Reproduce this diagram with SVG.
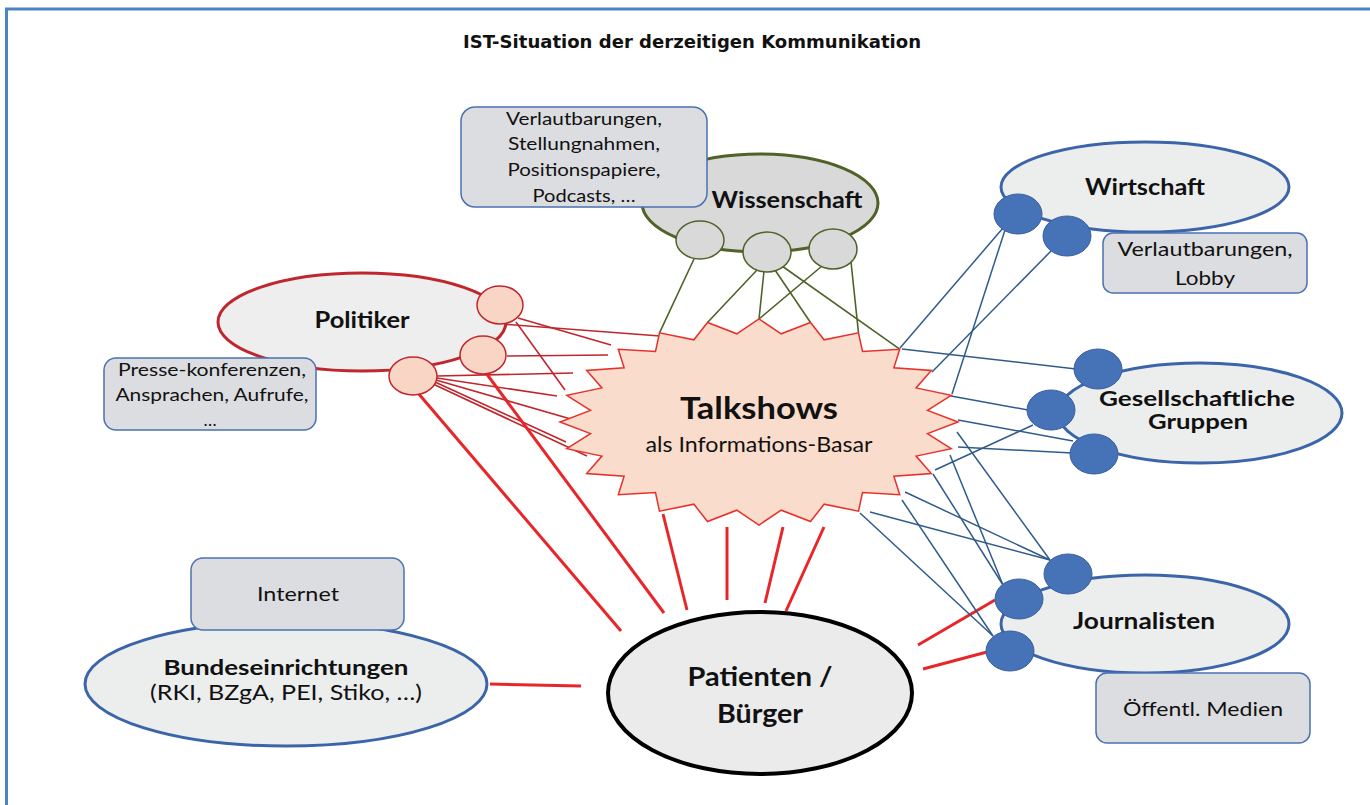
<svg xmlns="http://www.w3.org/2000/svg" width="1370" height="805" viewBox="0 0 1370 805">
<style>
text{font-family:Lato,"Open Sans","Liberation Sans",sans-serif;fill:#111;text-anchor:middle}
.b{font-weight:bold}
.box{fill:#dcdde0;stroke:#4a72b0;stroke-width:1.5}
.bell{fill:#eceeee;stroke:#3b65a8;stroke-width:3}
.bc{fill:#4672b8;stroke:#3a5f9c;stroke-width:1}
.gc{fill:#d9d9d9;stroke:#4f6228;stroke-width:1.5}
.pc{fill:#f8d5c4;stroke:#c0262d;stroke-width:1.5}
.gl{stroke:#4f6228;stroke-width:1.6;fill:none}
.rl{stroke:#c0262d;stroke-width:1.6;fill:none}
.rt{stroke:#e8262a;stroke-width:3;fill:none}
.bl{stroke:#2f5b8c;stroke-width:1.5;fill:none}
</style>
<rect width="1370" height="805" fill="#fff"/>
<g id="frame" stroke="#4a84c4" stroke-width="3" fill="none">
<line x1="5" y1="9" x2="1370" y2="9"/>
<line x1="6.5" y1="9" x2="6.5" y2="805"/>
</g>
<text x="692" y="48" class="b" style="font-family:'DejaVu Sans Condensed','DejaVu Sans',sans-serif;font-stretch:condensed" font-size="17" textLength="458" lengthAdjust="spacingAndGlyphs">IST-Situation der derzeitigen Kommunikation</text>

<g id="connectors">
<!-- green -->
<line class="gl" x1="694" y1="259" x2="659.5" y2="332.8"/>
<line class="gl" x1="757" y1="270" x2="707.5" y2="322.5"/>
<line class="gl" x1="764" y1="271" x2="759" y2="319"/>
<line class="gl" x1="775" y1="270" x2="810.5" y2="322.5"/>
<line class="gl" x1="782" y1="266" x2="899.7" y2="349.2"/>
<line class="gl" x1="822" y1="266" x2="759" y2="319"/>
<line class="gl" x1="851" y1="262" x2="858.5" y2="332.8"/>
<!-- red thin -->
<line class="rl" x1="488" y1="323" x2="660" y2="336"/>
<line class="rl" x1="518" y1="318" x2="611" y2="345"/>
<line class="rl" x1="516" y1="322" x2="565" y2="390"/>
<line class="rl" x1="507" y1="356" x2="608" y2="355"/>
<line class="rl" x1="437" y1="376" x2="573" y2="373"/>
<line class="rl" x1="437" y1="378" x2="557" y2="396"/>
<line class="rl" x1="436" y1="380" x2="588" y2="424"/>
<line class="rl" x1="435" y1="382" x2="566" y2="442"/>
<line class="rl" x1="433" y1="384" x2="587" y2="456"/>
<!-- red thick -->
<line class="rt" x1="418" y1="393" x2="621" y2="631"/>
<line class="rt" x1="486" y1="373" x2="664" y2="613"/>
<line class="rt" x1="663" y1="514" x2="687" y2="610"/>
<line class="rt" x1="727" y1="527" x2="727" y2="600"/>
<line class="rt" x1="783" y1="527" x2="765" y2="603"/>
<line class="rt" x1="824" y1="527" x2="786" y2="611"/>
<line class="rt" x1="490" y1="684" x2="581" y2="686"/>
<line class="rt" x1="918" y1="645" x2="995" y2="600"/>
<line class="rt" x1="923" y1="669" x2="987" y2="652"/>
<!-- blue -->
<line class="bl" x1="1003" y1="228" x2="900" y2="348"/>
<line class="bl" x1="1005" y1="230" x2="952" y2="394"/>
<line class="bl" x1="1051" y1="251" x2="932" y2="372"/>
<line class="bl" x1="902" y1="349" x2="1076" y2="369"/>
<line class="bl" x1="951" y1="396" x2="1028" y2="410"/>
<line class="bl" x1="958" y1="420" x2="1073" y2="441"/>
<line class="bl" x1="958" y1="447" x2="1072" y2="453"/>
<line class="bl" x1="935" y1="470" x2="1033" y2="425"/>
<line class="bl" x1="957" y1="432" x2="1050" y2="560"/>
<line class="bl" x1="905" y1="492" x2="1050" y2="560"/>
<line class="bl" x1="870" y1="512" x2="1050" y2="560"/>
<line class="bl" x1="933" y1="474" x2="1003" y2="585"/>
<line class="bl" x1="950" y1="455" x2="1003" y2="585"/>
<line class="bl" x1="902" y1="500" x2="993" y2="636"/>
<line class="bl" x1="860" y1="513" x2="993" y2="636"/>
</g>

<g id="talkshows">
<polygon fill="#f9dccc" stroke="#e8302a" stroke-width="1.5" points="958,422 927.5,410.4 951.2,395.3 916.1,387.9 931.3,370.5 893.9,367.8 899.7,349.2 862.5,351.4 858.5,332.8 824.1,339.8 810.5,322.5 781.2,333.8 759,319 736.8,333.8 707.5,322.5 693.9,339.8 659.5,332.8 655.5,351.4 618.3,349.2 624.1,367.8 586.7,370.5 601.9,387.9 566.8,395.3 590.5,410.4 560,422 590.5,433.6 566.8,448.7 601.9,456.1 586.7,473.5 624.1,476.2 618.3,494.8 655.5,492.6 659.5,511.2 693.9,504.2 707.5,521.5 736.8,510.2 759,525 781.2,510.2 810.5,521.5 824.1,504.2 858.5,511.2 862.5,492.6 899.7,494.8 893.9,476.2 931.3,473.5 916.1,456.1 951.2,448.7 927.5,433.6"/>
<text x="759" y="419" class="b" font-size="31" textLength="158" lengthAdjust="spacingAndGlyphs">Talkshows</text>
<text x="759" y="452" font-size="21" textLength="227" lengthAdjust="spacingAndGlyphs">als Informations-Basar</text>
</g>

<g id="wissenschaft">
<ellipse cx="760" cy="203" rx="118" ry="49" fill="#d9d9d9" stroke="#4f6228" stroke-width="3"/>
<text x="787" y="208" class="b" font-size="23" textLength="151" lengthAdjust="spacingAndGlyphs">Wissenschaft</text>
<ellipse class="gc" cx="700" cy="240" rx="24" ry="19"/>
<ellipse class="gc" cx="767" cy="252" rx="24" ry="20"/>
<ellipse class="gc" cx="833" cy="249" rx="24" ry="20"/>
</g>
<g id="wissenschaft-info">
<rect class="box" x="461" y="107" width="246" height="100" rx="14"/>
<text x="584" y="125" font-size="18" textLength="156" lengthAdjust="spacingAndGlyphs">Verlautbarungen,</text>
<text x="584" y="150" font-size="18" textLength="152" lengthAdjust="spacingAndGlyphs">Stellungnahmen,</text>
<text x="584" y="176" font-size="18" textLength="153" lengthAdjust="spacingAndGlyphs">Positionspapiere,</text>
<text x="584" y="202" font-size="18" textLength="103" lengthAdjust="spacingAndGlyphs">Podcasts, …</text>
</g>

<g id="politiker">
<ellipse cx="362" cy="322" rx="144" ry="49" fill="#eeeeee" stroke="#c0262d" stroke-width="3"/>
<text x="362" y="328" class="b" font-size="22" textLength="95" lengthAdjust="spacingAndGlyphs">Politiker</text>
<ellipse class="pc" cx="500" cy="305" rx="23" ry="19"/>
<ellipse class="pc" cx="483" cy="355" rx="23" ry="19"/>
<ellipse class="pc" cx="413" cy="376" rx="24" ry="19"/>
</g>
<g id="politiker-info">
<rect class="box" x="104" y="358" width="212" height="72" rx="12"/>
<text x="212" y="376" font-size="17.5" textLength="188" lengthAdjust="spacingAndGlyphs">Presse-konferenzen,</text>
<text x="212" y="401" font-size="17.5" textLength="193" lengthAdjust="spacingAndGlyphs">Ansprachen, Aufrufe,</text>
<text x="210" y="426" font-size="17.5">…</text>
</g>

<g id="wirtschaft">
<ellipse class="bell" cx="1145" cy="187" rx="144" ry="45"/>
<text x="1145" y="195" class="b" font-size="23" textLength="120" lengthAdjust="spacingAndGlyphs">Wirtschaft</text>
<ellipse class="bc" cx="1018" cy="214" rx="24" ry="20"/>
<ellipse class="bc" cx="1067" cy="236" rx="24" ry="20"/>
</g>
<g id="wirtschaft-info">
<rect class="box" x="1103" y="233" width="204" height="60" rx="10"/>
<text x="1205" y="256" font-size="20" textLength="175" lengthAdjust="spacingAndGlyphs">Verlautbarungen,</text>
<text x="1205" y="285" font-size="20" textLength="60" lengthAdjust="spacingAndGlyphs">Lobby</text>
</g>

<g id="gesellschaft">
<ellipse class="bell" cx="1200" cy="413" rx="142" ry="50"/>
<text x="1197" y="406" class="b" font-size="21" textLength="196" lengthAdjust="spacingAndGlyphs">Gesellschaftliche</text>
<text x="1198" y="429" class="b" font-size="21" textLength="100" lengthAdjust="spacingAndGlyphs">Gruppen</text>
<ellipse class="bc" cx="1098" cy="369" rx="24" ry="20"/>
<ellipse class="bc" cx="1051" cy="410" rx="24" ry="20"/>
<ellipse class="bc" cx="1094" cy="454" rx="24" ry="20"/>
</g>

<g id="journalisten">
<ellipse class="bell" cx="1145" cy="624" rx="144" ry="49"/>
<text x="1144" y="629" class="b" font-size="22" textLength="142" lengthAdjust="spacingAndGlyphs">Journalisten</text>
<ellipse class="bc" cx="1068" cy="574" rx="24" ry="20"/>
<ellipse class="bc" cx="1019" cy="599" rx="24" ry="20"/>
<ellipse class="bc" cx="1010" cy="651" rx="24" ry="20"/>
</g>
<g id="journalisten-info">
<rect class="box" x="1096" y="673" width="214" height="70" rx="11"/>
<text x="1203" y="716" font-size="20" textLength="160" lengthAdjust="spacingAndGlyphs">Öffentl. Medien</text>
</g>

<g id="bundeseinrichtungen">
<ellipse class="bell" cx="286" cy="684" rx="201" ry="62"/>
<text x="286" y="675" class="b" font-size="21" textLength="245" lengthAdjust="spacingAndGlyphs">Bundeseinrichtungen</text>
<text x="286" y="700" font-size="22" textLength="272" lengthAdjust="spacingAndGlyphs">(RKI, BZgA, PEI, Stiko, …)</text>
</g>
<g id="internet">
<rect class="box" x="191" y="558" width="213" height="72" rx="12"/>
<text x="298" y="601" font-size="20" textLength="82" lengthAdjust="spacingAndGlyphs">Internet</text>
</g>

<g id="patienten">
<ellipse cx="760" cy="693" rx="152" ry="81" fill="#ebebeb" stroke="#000" stroke-width="4"/>
<text x="760" y="686" class="b" font-size="26" textLength="145" lengthAdjust="spacingAndGlyphs">Patienten /</text>
<text x="760" y="723" class="b" font-size="26" textLength="86" lengthAdjust="spacingAndGlyphs">Bürger</text>
</g>
</svg>
